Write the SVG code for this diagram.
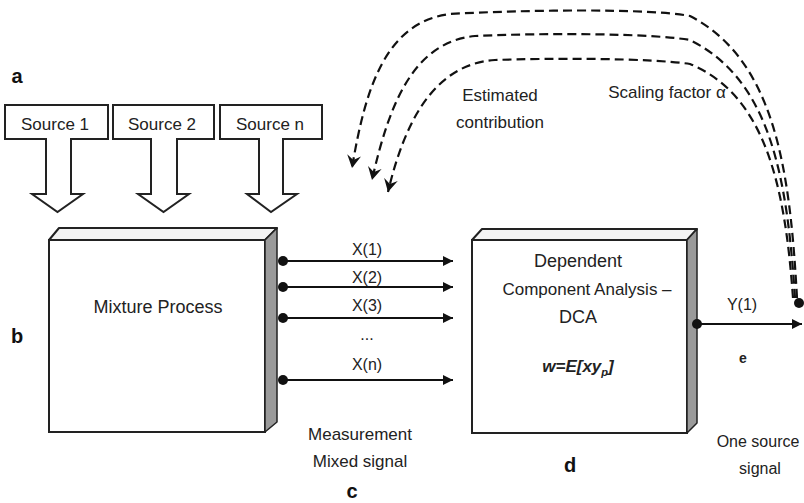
<svg xmlns="http://www.w3.org/2000/svg" width="804" height="503" viewBox="0 0 804 503">
<defs>
<marker id="arr" viewBox="0 0 10 10" refX="10" refY="5" markerWidth="10" markerHeight="10" markerUnits="userSpaceOnUse" orient="auto">
<path d="M0,0 L10,5 L0,10 Z" fill="#111"/>
</marker>
<marker id="darr" viewBox="0 0 12 12" refX="11" refY="6" markerWidth="14" markerHeight="14" markerUnits="userSpaceOnUse" orient="auto">
<path d="M0,0 L11,6 L0,12 L4,6 Z" fill="#111"/>
</marker>
<style>
.t{font-family:"Liberation Sans",Arial,sans-serif;fill:#222;text-anchor:middle;}
.lbl{font-family:"Liberation Sans",Arial,sans-serif;font-weight:bold;fill:#111;font-size:20px;text-anchor:middle;}
.blk{fill:#fff;stroke:#222;stroke-width:2;stroke-linejoin:miter;}
.top{fill:#f4f4f4;stroke:#222;stroke-width:2;stroke-linejoin:round;}
.side{fill:#9a9a9a;stroke:#222;stroke-width:1.5;stroke-linejoin:round;}
.sig{stroke:#111;stroke-width:2;fill:none;marker-end:url(#arr);}
.dash{stroke:#111;stroke-width:2.2;fill:none;stroke-dasharray:9 5;marker-end:url(#darr);}
.dot{fill:#111;}
</style>
</defs>
<rect width="804" height="503" fill="#fff"/>

<g id="source1">
<path class="blk" d="M5 105 H108 V139 H71 V194 H83 L57.5 212 L32 194 H46 V139 H5 Z"/>
<text class="t" x="55" y="130" font-size="17">Source 1</text>
</g>
<g id="source2">
<path class="blk" d="M113 105 H214 V139 H177 V194 H189 L163.5 212 L138 194 H151 V139 H113 Z"/>
<text class="t" x="162" y="130" font-size="17">Source 2</text>
</g>
<g id="sourcen">
<path class="blk" d="M220 105 H322 V139 H283 V194 H297 L271 212 L247 194 H259 V139 H220 Z"/>
<text class="t" x="270" y="130" font-size="17">Source n</text>
</g>

<g id="mixture">
<rect class="blk" x="49" y="240" width="216" height="192"/>
<polygon class="top" points="49,240 59,228 277,228 265,240"/>
<polygon class="side" points="265,240 277,228 277,422 265,432"/>
<text class="t" x="158" y="313" font-size="18">Mixture Process</text>
</g>

<g id="dca">
<rect class="blk" x="472" y="240" width="215" height="193"/>
<polygon class="top" points="472,240 482,229 697,229 687,240"/>
<polygon class="side" points="687,240 697,229 697,423 687,433"/>
<text class="t" x="578" y="267" font-size="18">Dependent</text>
<text class="t" x="587" y="295" font-size="17">Component Analysis –</text>
<text class="t" x="578" y="323" font-size="18">DCA</text>
<text class="t" x="578" y="372" font-size="17" font-weight="bold" font-style="italic">w=E[xy<tspan font-size="11" dy="4">p</tspan><tspan dy="-4">]</tspan></text>
</g>

<g id="connectors">
<circle class="dot" cx="283" cy="261" r="5"/>
<line class="sig" x1="283" y1="261" x2="453" y2="261"/>
<circle class="dot" cx="283" cy="287" r="5"/>
<line class="sig" x1="283" y1="287" x2="453" y2="287"/>
<circle class="dot" cx="283" cy="318" r="5"/>
<line class="sig" x1="283" y1="318" x2="453" y2="318"/>
<circle class="dot" cx="283" cy="380" r="5"/>
<line class="sig" x1="283" y1="380" x2="453" y2="380"/>
<circle class="dot" cx="697" cy="324" r="5"/>
<line class="sig" x1="697" y1="324" x2="802" y2="324"/>
<path class="dash" d="M797 298 C 790 170, 775 60, 690 16 C 650 8, 520 10, 450 14 C 385 22, 365 90, 352 168"/>
<path class="dash" d="M795 298 C 787 175, 770 80, 690 40 C 650 33, 540 33, 475 36 C 415 42, 390 100, 372 180"/>
<path class="dash" d="M793 298 C 785 185, 765 95, 690 64 C 650 58, 550 58, 495 60 C 435 64, 405 120, 388 192"/>
<circle class="dot" cx="799" cy="303" r="5"/>
</g>

<g id="labels">
<text class="t" x="367" y="255" font-size="16">X(1)</text>
<text class="t" x="367" y="283" font-size="16">X(2)</text>
<text class="t" x="367" y="311" font-size="16">X(3)</text>
<text class="t" x="367" y="340" font-size="16">...</text>
<text class="t" x="367" y="370" font-size="16">X(n)</text>
<text class="t" x="742" y="310" font-size="16">Y(1)</text>
<text class="t" x="743" y="363" font-size="14" font-weight="bold">e</text>
<text class="t" x="500" y="101" font-size="17">Estimated</text>
<text class="t" x="500" y="128" font-size="17">contribution</text>
<text class="t" x="667" y="98" font-size="17">Scaling factor α</text>
<text class="t" x="360" y="440" font-size="17">Measurement</text>
<text class="t" x="360" y="467" font-size="17">Mixed signal</text>
<text class="t" x="758" y="447" font-size="16">One source</text>
<text class="t" x="760" y="474" font-size="16">signal</text>
<text class="lbl" x="17" y="83">a</text>
<text class="lbl" x="17" y="343">b</text>
<text class="lbl" x="352" y="498">c</text>
<text class="lbl" x="570" y="472">d</text>
</g>
</svg>
